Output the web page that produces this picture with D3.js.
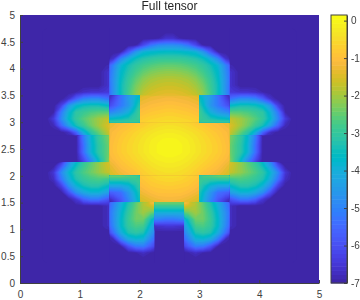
<!DOCTYPE html>
<html>
<head>
  <meta charset="utf-8">
  <script src="https://d3js.org/d3.v7.min.js"></script>
  <title>Full tensor</title>
  <style>
    body { margin: 0; background: #fff; }
    svg { display: block; }
    text { font-family: "Liberation Sans", sans-serif; fill: #404040; }
    .axis text { font-size: 10px; }
    .axis path, .axis line { stroke: #404040; stroke-width: 1; }
    .title { font-size: 12px; fill: #262626; }
  </style>
</head>
<body>
  <svg id="chart" width="360" height="300"></svg>
  <script>
    // cell centres of the part of the plane that is not background
    const xCells = [0.5625,0.6875,0.8125,0.9375,1.0625,1.1875,1.3125,1.4375,1.5625,1.6875,1.8125,1.9375,2.0625,2.1875,2.3125,2.4375,
      2.5625,2.6875,2.8125,2.9375,3.0625,3.1875,3.3125,3.4375,3.5625,3.6875,3.8125,3.9375,4.0625,4.1875,4.3125,4.4375];
    const yCells = [4.5625,4.4375,4.3125,4.1875,4.0625,3.9375,3.8125,3.6875,3.5625,3.4375,3.3125,3.1875,3.0625,2.9375,2.8125,2.6875,
      2.5625,2.4375,2.3125,2.1875,2.0625,1.9375,1.8125,1.6875,1.5625,1.4375,1.3125,1.1875,1.0625,0.9375,0.8125,0.6875,0.5625];
    const cellSize = 0.125;

    // log10 values, one row per yCells entry
    const zRows = [
      [-7,-7,-7,-7,-7,-7,-7,-7,-7,-7,-7,-7,-7,-7,-6.9,-6.6, -6.6,-6.9,-7,-7,-7,-7,-7,-7,-7,-7,-7,-7,-7,-7,-7,-7],
      [-7,-7,-7,-7,-7,-7,-7,-7,-7,-7,-7,-6.9,-6.1,-5.3,-4.9,-4.8, -4.8,-4.9,-5.3,-6.1,-6.9,-7,-7,-7,-7,-7,-7,-7,-7,-7,-7,-7],
      [-7,-7,-7,-7,-7,-7,-7,-7,-7,-6.9,-5.8,-4.6,-3.9,-3.75,-3.65,-3.6, -3.6,-3.65,-3.75,-3.9,-4.6,-5.8,-6.9,-7,-7,-7,-7,-7,-7,-7,-7,-7],
      [-7,-7,-7,-7,-7,-7,-7,-7,-6.6,-5,-4.1,-3.5,-3.25,-3.1,-3,-3, -3,-3,-3.1,-3.25,-3.5,-4.1,-5,-6.6,-7,-7,-7,-7,-7,-7,-7,-7],
      [-7,-7,-7,-7,-7,-7,-7,-6.9,-5,-3.9,-3.4,-3.05,-2.8,-2.65,-2.55,-2.5, -2.5,-2.55,-2.65,-2.8,-3.05,-3.4,-3.9,-5,-6.9,-7,-7,-7,-7,-7,-7,-7],
      [-7,-7,-7,-7,-7,-7,-7,-6.7,-4.8,-3.7,-3.2,-2.8,-2.5,-2.3,-2.2,-2.15, -2.15,-2.2,-2.3,-2.5,-2.8,-3.2,-3.7,-4.8,-6.7,-7,-7,-7,-7,-7,-7,-7],
      [-7,-7,-7,-7,-7,-7,-7,-6.7,-4.7,-3.6,-3,-2.55,-2.2,-2,-1.9,-1.85, -1.85,-1.9,-2,-2.2,-2.55,-3,-3.6,-4.7,-6.7,-7,-7,-7,-7,-7,-7,-7],
      [-7,-7,-7,-7,-7,-7,-7,-6.7,-4.7,-3.5,-2.9,-2.35,-2,-1.8,-1.7,-1.65, -1.65,-1.7,-1.8,-2,-2.35,-2.9,-3.5,-4.7,-6.7,-7,-7,-7,-7,-7,-7,-7],
      [-7,-7,-7,-6.9,-6.7,-6.6,-6.6,-6.5,-4.7,-3.5,-2.8,-2.2,-1.8,-1.6,-1.5,-1.45, -1.45,-1.5,-1.6,-1.8,-2.2,-2.8,-3.5,-4.7,-6.5,-6.6,-6.6,-6.7,-6.9,-7,-7,-7],
      [-7,-7,-6.6,-5.7,-5,-4.8,-4.8,-5.2,-6.2,-5.3,-4.5,-3.8,-1.35,-1.25,-1.2,-1.15, -1.15,-1.2,-1.25,-1.35,-3.8,-4.5,-5.3,-6.2,-5.2,-4.8,-4.8,-5,-5.7,-6.6,-7,-7],
      [-7,-6.3,-4.6,-3.8,-3.5,-3.4,-3.4,-3.6,-5.8,-5.2,-4.6,-3.6,-1.15,-1.05,-1,-0.95, -0.95,-1,-1.05,-1.15,-3.6,-4.6,-5.2,-5.8,-3.6,-3.4,-3.4,-3.5,-3.8,-4.6,-6.3,-7],
      [-6.9,-5.2,-3.9,-3.1,-2.9,-2.7,-2.6,-2.6,-4.8,-4.5,-4,-3.2,-0.95,-0.85,-0.8,-0.75, -0.75,-0.8,-0.85,-0.95,-3.2,-4,-4.5,-4.8,-2.6,-2.6,-2.7,-2.9,-3.1,-3.9,-5.2,-6.9],
      [-6.4,-4.9,-3.7,-3,-2.6,-2.3,-2,-1.8,-3.6,-3.5,-3.3,-3,-0.75,-0.65,-0.6,-0.55, -0.55,-0.6,-0.65,-0.75,-3,-3.3,-3.5,-3.6,-1.8,-2,-2.3,-2.6,-3,-3.7,-4.9,-6.4],
      [-6.8,-5.6,-4.4,-3.4,-2.9,-2.4,-2,-1.6,-1.2,-1.05,-0.95,-0.8,-0.7,-0.55,-0.45,-0.4, -0.4,-0.45,-0.55,-0.7,-0.8,-0.95,-1.05,-1.2,-1.6,-2,-2.4,-2.9,-3.4,-4.4,-5.6,-6.8],
      [-7,-7,-6.7,-5.6,-4,-3.1,-2.5,-1.9,-1.05,-0.9,-0.75,-0.6,-0.45,-0.35,-0.25,-0.2, -0.2,-0.25,-0.35,-0.45,-0.6,-0.75,-0.9,-1.05,-1.9,-2.5,-3.1,-4,-5.6,-6.7,-7,-7],
      [-7,-7,-7,-7,-5.2,-3.8,-3,-2.5,-1,-0.8,-0.65,-0.5,-0.35,-0.2,-0.1,-0.05, -0.05,-0.1,-0.2,-0.35,-0.5,-0.65,-0.8,-1,-2.5,-3,-3.8,-5.2,-7,-7,-7,-7],
      [-7,-7,-7,-7,-5.4,-3.9,-3.1,-2.6,-0.95,-0.75,-0.6,-0.45,-0.3,-0.15,-0.05,0, 0,-0.05,-0.15,-0.3,-0.45,-0.6,-0.75,-0.95,-2.6,-3.1,-3.9,-5.4,-7,-7,-7,-7],
      [-7,-7,-7,-7,-5.4,-3.9,-3.1,-2.6,-0.95,-0.75,-0.6,-0.45,-0.3,-0.15,-0.05,0, 0,-0.05,-0.15,-0.3,-0.45,-0.6,-0.75,-0.95,-2.6,-3.1,-3.9,-5.4,-7,-7,-7,-7],
      [-7,-7,-7,-7,-6,-4.7,-3.5,-2.6,-1.05,-0.85,-0.7,-0.55,-0.4,-0.25,-0.15,-0.1, -0.1,-0.15,-0.25,-0.4,-0.55,-0.7,-0.85,-1.05,-2.6,-3.5,-4.7,-6,-7,-7,-7,-7],
      [-7,-6,-4.5,-3.5,-2.9,-2.5,-2.1,-1.7,-1.25,-1,-0.85,-0.7,-0.55,-0.4,-0.3,-0.25, -0.25,-0.3,-0.4,-0.55,-0.7,-0.85,-1,-1.25,-1.7,-2.1,-2.5,-2.9,-3.5,-4.5,-6,-7],
      [-6.5,-4.9,-3.8,-3.1,-2.7,-2.4,-2.1,-1.8,-1.4,-1.2,-1.05,-0.9,-0.7,-0.55,-0.45,-0.4, -0.4,-0.45,-0.55,-0.7,-0.9,-1.05,-1.2,-1.4,-1.8,-2.1,-2.4,-2.7,-3.1,-3.8,-4.9,-6.5],
      [-6.7,-5.3,-4.1,-3.3,-3,-2.8,-2.7,-2.8,-3,-3,-3,-2.9,-0.85,-0.7,-0.6,-0.55, -0.55,-0.6,-0.7,-0.85,-2.9,-3,-3,-3,-2.8,-2.7,-2.8,-3,-3.3,-4.1,-5.3,-6.7],
      [-7,-6.3,-4.8,-3.9,-3.4,-3.2,-3.2,-3.5,-4.2,-4.2,-3.9,-3.3,-1,-0.85,-0.8,-0.75, -0.75,-0.8,-0.85,-1,-3.3,-3.9,-4.2,-4.2,-3.5,-3.2,-3.2,-3.4,-3.9,-4.8,-6.3,-7],
      [-7,-7,-6,-4.8,-4.2,-3.9,-3.9,-4.3,-5.6,-5.4,-4.6,-3.7,-1.2,-1.05,-0.95,-0.95, -0.95,-0.95,-1.05,-1.2,-3.7,-4.6,-5.4,-5.6,-4.3,-3.9,-3.9,-4.2,-4.8,-6,-7,-7],
      [-7,-7,-7,-6.5,-5.6,-5.2,-5.2,-5.7,-6.4,-5.8,-4.9,-3.9,-1.45,-1.3,-1.2,-1.15, -1.15,-1.2,-1.3,-1.45,-3.9,-4.9,-5.8,-6.4,-5.7,-5.2,-5.2,-5.6,-6.5,-7,-7,-7],
      [-7,-7,-7,-7,-7,-7,-7,-6.8,-5,-4,-3.2,-2.5,-1.9,-1.6,-2.9,-2.9, -2.9,-2.9,-1.6,-1.9,-2.5,-3.2,-4,-5,-6.8,-7,-7,-7,-7,-7,-7,-7],
      [-7,-7,-7,-7,-7,-7,-7,-6.8,-4.8,-3.8,-3,-2.4,-2,-2.4,-4,-4, -4,-4,-2.4,-2,-2.4,-3,-3.8,-4.8,-6.8,-7,-7,-7,-7,-7,-7,-7],
      [-7,-7,-7,-7,-7,-7,-7,-6.8,-4.8,-3.7,-2.9,-2.4,-2.4,-3.4,-5,-5.2, -5.2,-5,-3.4,-2.4,-2.4,-2.9,-3.7,-4.8,-6.8,-7,-7,-7,-7,-7,-7,-7],
      [-7,-7,-7,-7,-7,-7,-7,-6.8,-4.9,-3.7,-3,-2.7,-2.8,-3.9,-6.6,-6.5, -6.5,-6.6,-3.9,-2.8,-2.7,-3,-3.7,-4.9,-6.8,-7,-7,-7,-7,-7,-7,-7],
      [-7,-7,-7,-7,-7,-7,-7,-7,-5.4,-4.1,-3.3,-3.1,-3.3,-4.4,-7,-7, -7,-7,-4.4,-3.3,-3.1,-3.3,-4.1,-5.4,-7,-7,-7,-7,-7,-7,-7,-7],
      [-7,-7,-7,-7,-7,-7,-7,-7,-6.8,-5.2,-4.2,-3.9,-4,-5,-7,-7, -7,-7,-5,-4,-3.9,-4.2,-5.2,-6.8,-7,-7,-7,-7,-7,-7,-7,-7],
      [-7,-7,-7,-7,-7,-7,-7,-7,-7,-6.9,-5.9,-5.2,-5.1,-5.8,-7,-7, -7,-7,-5.8,-5.1,-5.2,-5.9,-6.9,-7,-7,-7,-7,-7,-7,-7,-7,-7],
      [-7,-7,-7,-7,-7,-7,-7,-7,-7,-7,-7,-6.9,-6.7,-6.9,-7,-7, -7,-7,-6.9,-6.7,-6.9,-7,-7,-7,-7,-7,-7,-7,-7,-7,-7,-7]
    ];

    // blocks of the field; the value jumps along their edges: x0, x1, y0, y1
    const blocks = [
      [0.3,1.5,2.75,4.8],[0.3,1.5,2.25,2.75],[0.3,1.5,0.3,2.25],
      [3.5,4.7,2.75,4.8],[3.5,4.7,2.25,2.75],[3.5,4.7,0.3,2.25],
      [1.5,3.5,3.5,4.8],[1.5,3.5,2,3],[2,3,3,3.5],[2,3,1.5,2],
      [1.5,2,3,3.5],[3,3.5,3,3.5],[1.5,2,1.5,2],[3,3.5,1.5,2],
      [1.5,2.25,0.3,1.5],[2.25,2.75,0.3,1.5],[2.75,3.5,0.3,1.5]
    ];

    const xTickValues = [0, 1, 2, 3, 4, 5];
    const yTickValues = [0, 0.5, 1, 1.5, 2, 2.5, 3, 3.5, 4, 4.5, 5];
    const barTickValues = [0, -1, -2, -3, -4, -5, -6, -7];
    const zMin = -7;
    const zMax = 0.15;

    // parula, 64 levels
    const parula = [
      [0.2422,0.1504,0.6603],[0.2504,0.1650,0.7076],[0.2578,0.1818,0.7511],[0.2647,0.1978,0.7952],
      [0.2706,0.2147,0.8364],[0.2751,0.2342,0.8710],[0.2783,0.2559,0.8991],[0.2803,0.2782,0.9221],
      [0.2813,0.3006,0.9414],[0.2810,0.3228,0.9579],[0.2795,0.3447,0.9717],[0.2760,0.3667,0.9829],
      [0.2699,0.3892,0.9906],[0.2602,0.4123,0.9952],[0.2440,0.4358,0.9988],[0.2206,0.4603,0.9973],
      [0.1963,0.4847,0.9892],[0.1834,0.5074,0.9798],[0.1786,0.5289,0.9682],[0.1764,0.5499,0.9520],
      [0.1687,0.5703,0.9359],[0.1540,0.5902,0.9218],[0.1460,0.6091,0.9079],[0.1380,0.6276,0.8973],
      [0.1248,0.6459,0.8883],[0.1113,0.6635,0.8763],[0.0952,0.6798,0.8598],[0.0689,0.6948,0.8394],
      [0.0297,0.7082,0.8163],[0.0036,0.7203,0.7917],[0.0067,0.7312,0.7660],[0.0433,0.7411,0.7394],
      [0.0964,0.7500,0.7120],[0.1408,0.7584,0.6842],[0.1717,0.7670,0.6554],[0.1938,0.7758,0.6251],
      [0.2161,0.7843,0.5923],[0.2470,0.7918,0.5567],[0.2906,0.7973,0.5188],[0.3406,0.8008,0.4789],
      [0.3909,0.8029,0.4354],[0.4456,0.8024,0.3909],[0.5044,0.7993,0.3480],[0.5616,0.7942,0.3045],
      [0.6174,0.7876,0.2612],[0.6720,0.7793,0.2227],[0.7242,0.7698,0.1910],[0.7738,0.7598,0.1646],
      [0.8203,0.7498,0.1535],[0.8634,0.7406,0.1596],[0.9035,0.7330,0.1774],[0.9393,0.7288,0.2100],
      [0.9728,0.7298,0.2394],[0.9956,0.7434,0.2371],[0.9970,0.7659,0.2199],[0.9952,0.7893,0.2028],
      [0.9892,0.8136,0.1885],[0.9786,0.8386,0.1766],[0.9676,0.8639,0.1643],[0.9610,0.8890,0.1537],
      [0.9597,0.9135,0.1423],[0.9628,0.9373,0.1265],[0.9691,0.9606,0.1064],[0.9769,0.9839,0.0805]
    ].map(c => d3.rgb(c[0] * 255, c[1] * 255, c[2] * 255).formatHex());

    const svg = d3.select('#chart');
    const plot = { left: 20, right: 319, top: 15, bottom: 283 };
    const bar = { left: 331, right: 347 };

    const xScale = d3.scaleLinear().domain([0, 5]).range([plot.left, plot.right]);
    const yScale = d3.scaleLinear().domain([0, 5]).range([plot.bottom, plot.top]);
    const zScale = d3.scaleLinear().domain([zMax, zMin]).range([plot.top, plot.bottom]);

    const levels = parula.map((c, i) => ({
      lo: zMin + (zMax - zMin) * i / parula.length,
      hi: zMin + (zMax - zMin) * (i + 1) / parula.length,
      c: c
    }));

    const defs = svg.append('defs');
    defs.append('filter')
      .attr('id', 'soft')
      .attr('color-interpolation-filters', 'sRGB')
      .append('feGaussianBlur')
      .attr('stdDeviation', 0.7);
    defs.append('clipPath')
      .attr('id', 'plotClip')
      .append('rect')
      .attr('x', plot.left)
      .attr('y', plot.top)
      .attr('width', plot.right - plot.left)
      .attr('height', plot.bottom - plot.top);

    const field = svg.append('g').attr('clip-path', 'url(#plotClip)');
    field.append('rect')
      .attr('x', plot.left)
      .attr('y', plot.top)
      .attr('width', plot.right - plot.left)
      .attr('height', plot.bottom - plot.top)
      .attr('fill', parula[0]);
    const blockLayer = field.append('g').attr('filter', 'url(#soft)');

    const clampZ = z => Math.max(zMin, Math.min(zMax, z));

    //one block: its own grid with one extra node all round, so contours reach the edge
    function drawBlock(block, n) {
      const cols = d3.range(xCells.length).filter(i => xCells[i] > block[0] && xCells[i] < block[1]);
      const rows = d3.range(yCells.length).filter(j => yCells[j] > block[2] && yCells[j] < block[3]);
      const first = cols[0], top = rows[0];

      const extendRow = r => {
        const v = cols.map(i => r[i]);
        const a = first === 0 ? zMin : clampZ(2 * v[0] - v[1]);
        const b = cols[cols.length - 1] === xCells.length - 1 ? zMin : clampZ(2 * v[v.length - 1] - v[v.length - 2]);
        return [a, ...v, b];
      };
      const grid = rows.map(j => extendRow(zRows[j]));
      const above = top === 0 ? grid[0].map(() => zMin) : grid[0].map((v, i) => clampZ(2 * v - grid[1][i]));
      const below = rows[rows.length - 1] === yCells.length - 1
        ? grid[0].map(() => zMin)
        : grid[grid.length - 1].map((v, i) => clampZ(2 * v - grid[grid.length - 2][i]));
      const full = [above, ...grid, below];

      const w = cols.length + 2, h = rows.length + 2;
      const contour = d3.contours().size([w, h]).thresholds(levels.map(l => l.lo));
      const path = d3.geoPath(d3.geoTransform({
        point: function (gx, gy) {
          const x = xCells[first] + (gx - 1.5) * cellSize;
          const y = yCells[top] - (gy - 1.5) * cellSize;
          this.stream.point(xScale(x), yScale(y));
        }
      }));

      defs.append('clipPath')
        .attr('id', 'block' + n)
        .append('rect')
        .attr('x', xScale(block[0]))
        .attr('y', yScale(block[3]))
        .attr('width', xScale(block[1]) - xScale(block[0]))
        .attr('height', yScale(block[2]) - yScale(block[3]));

      blockLayer.append('g')
        .attr('clip-path', `url(#block${n})`)
        .selectAll('path')
        .data(contour(full.flat()))
        .enter().append('path')
        .attr('d', path)
        .attr('fill', (d, i) => parula[i]);
    }
    blocks.forEach(drawBlock);

    //axes
    const xAxis = d3.axisBottom(xScale).tickValues(xTickValues).tickSize(-3).tickPadding(8).tickSizeOuter(0)
      .tickFormat(d3.format('d'));
    const yAxis = d3.axisLeft(yScale).tickValues(yTickValues).tickSize(-3).tickPadding(5).tickSizeOuter(0)
      .tickFormat(d => String(d));
    svg.append('g')
      .attr('class', 'axis')
      .attr('transform', `translate(0,${plot.bottom})`)
      .call(xAxis);
    svg.append('g')
      .attr('class', 'axis')
      .attr('transform', `translate(${plot.left},0)`)
      .call(yAxis);

    svg.append('text')
      .attr('class', 'title')
      .attr('x', (plot.left + plot.right) / 2)
      .attr('y', 10)
      .attr('text-anchor', 'middle')
      .text('Full tensor');

    //colorbar
    svg.append('g')
      .selectAll('rect')
      .data(levels)
      .enter().append('rect')
      .attr('x', bar.left)
      .attr('y', d => zScale(d.hi))
      .attr('width', bar.right - bar.left)
      .attr('height', d => zScale(d.lo) - zScale(d.hi) + 0.5)
      .attr('fill', d => d.c);
    svg.append('rect')
      .attr('x', bar.left)
      .attr('y', plot.top)
      .attr('width', bar.right - bar.left)
      .attr('height', plot.bottom - plot.top)
      .attr('fill', 'none')
      .attr('stroke', '#404040');
    const barAxis = d3.axisRight(zScale).tickValues(barTickValues).tickSize(-3).tickPadding(4).tickSizeOuter(0)
      .tickFormat(d => String(d));
    svg.append('g')
      .attr('class', 'axis')
      .attr('transform', `translate(${bar.right},0)`)
      .call(barAxis);
  </script>
</body>
</html>
